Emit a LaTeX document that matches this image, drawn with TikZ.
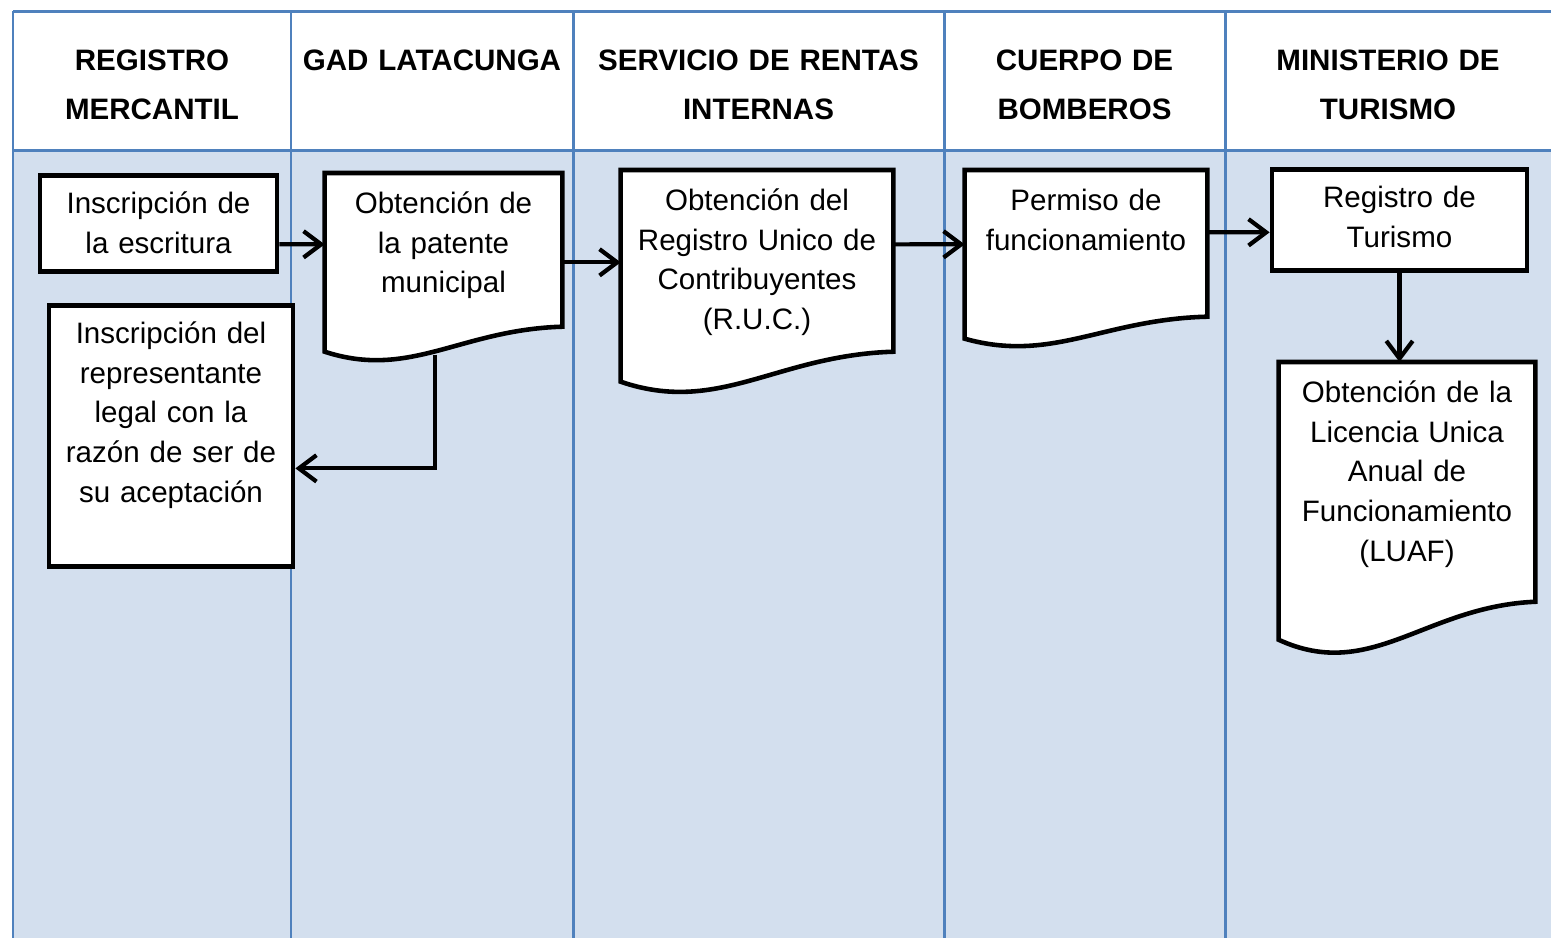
\documentclass[tikz,border=0pt]{standalone}
\usepackage{fontspec}
\setmainfont{Liberation Sans}
\usetikzlibrary{arrows.meta, calc}

\definecolor{laneLine}{HTML}{4F81BD}
\definecolor{laneFill}{HTML}{D3DFEE}

\newcommand{\pageWidth}{1551}
\newcommand{\pageHeight}{938}
\newcommand{\laneTop}{11}
\newcommand{\headBottom}{150}
\newcommand{\headBase}{70}

\pgfdeclarelayer{lanes}
\pgfdeclarelayer{paper}
\pgfsetlayers{lanes,paper,main}

\tikzset{
  laneline/.style={draw=laneLine, line width=0.85pt},
  header/.style={anchor=base, align=center, text width=3.3cm, inner sep=0pt,
    font=\fontsize{8.4}{14}\selectfont\bfseries},
  task/.style={anchor=north, draw=black, fill=white, line width=1.3pt, align=center,
    inner xsep=0.1cm, inner ysep=0.1cm, text height=0.28cm,
    font=\fontsize{8.4}{11.3}\selectfont},
  doc/.style={task, draw=none, fill=none},
  flow/.style={draw=black, line width=1.2pt, -{Straight Barb[length=5pt, width=7.5pt]}},
}

% wavy bottom of a document node: name, rise of the right end
\newcommand{\docOutline}[2]{%
  \draw[line width=1.3pt, fill=white] (#1.south west) -- (#1.north west) -- (#1.north east)
    -- ($(#1.south east)+(0,-#2)$)
    .. controls ($(#1.south west)!0.57!(#1.south east)+(0,-0.88*#2)$)
       and ($(#1.south west)!0.36!(#1.south east)+(0,1.12*#2)$) .. (#1.south west) -- cycle;}

\begin{document}
\begin{tikzpicture}[x=0.01cm, y=-0.01cm]
  \useasboundingbox (0,0) rectangle (\pageWidth,\pageHeight);

  \begin{pgfonlayer}{lanes}
    \fill[white] (13,\laneTop) rectangle (\pageWidth,\headBottom);
    \fill[laneFill] (13,\headBottom) rectangle (\pageWidth,\pageHeight);
    \draw[laneline] (13,\laneTop) -- (\pageWidth,\laneTop);
    \draw[laneline] (13,\headBottom) -- (\pageWidth,\headBottom);
    \draw[laneline] (13,\laneTop) -- (13,\pageHeight);
    \draw[laneline] (291,\laneTop) -- (291,\pageHeight);
    \draw[laneline] (573,\laneTop) -- (573,\pageHeight);
    \draw[laneline] (944,\laneTop) -- (944,\pageHeight);
    \draw[laneline] (1225,\laneTop) -- (1225,\pageHeight);
  \end{pgfonlayer}

  % lane headers
  \node[header] (hMerc) at (152,\headBase) {REGISTRO\\MERCANTIL};
  \node[header] (hGad) at (432,\headBase) {GAD LATACUNGA};
  \node[header] (hSri) at (758.5,\headBase) {SERVICIO DE RENTAS\\INTERNAS};
  \node[header] (hBomb) at (1084.5,\headBase) {CUERPO DE\\BOMBEROS};
  \node[header] (hTur) at (1388,\headBase) {MINISTERIO DE\\TURISMO};

  % steps
  \node[task, text width=2.17cm, text depth=0.48cm] (ins) at (158.5,173) {Inscripción de\\la escritura};
  \node[doc, text width=2.13cm, text depth=1.26cm] (pat) at (443.5,173) {Obtención de\\la patente\\municipal};
  \node[task, text width=2.24cm, text depth=2.13cm] (rep) at (171,303) {Inscripción del\\representante\\legal con la\\razón de ser de\\su aceptación};
  \node[doc, text width=2.48cm, text depth=1.59cm] (ruc) at (757,170) {Obtención del\\Registro Unico de\\Contribuyentes\\(R.U.C.)};
  \node[doc, text width=2.18cm, text depth=1.16cm] (perm) at (1086,170) {Permiso de\\funcionamiento};
  \node[task, text width=2.35cm, text depth=0.53cm] (tur) at (1399.5,167) {Registro de\\Turismo};
  \node[doc, text width=2.32cm, text depth=2.25cm] (luaf) at (1407,362) {Obtención de la\\Licencia Unica\\Anual de\\Funcionamiento\\(LUAF)};

  \begin{pgfonlayer}{paper}
    \docOutline{pat}{25}
    \docOutline{ruc}{30}
    \docOutline{perm}{22}
    \docOutline{luaf}{38}
  \end{pgfonlayer}

  % flow
  \draw[flow] ($(ins.east)+(0,21)$) -- ($(pat.west)+(0,-18)$);
  \draw[flow] (pat.east) -- (pat.east -| ruc.west);
  \draw[flow] ($(ruc.east)+(0,-31.5)$) -- ($(perm.west)+(0,-10)$);
  \draw[flow] ($(perm.east)+(0,-22)$) -- ($(tur.west)+(0,12.5)$);
  \draw[flow] (tur.south) -- (tur.south |- luaf.north);
  \draw[flow] ($(pat.south)+(-8.5,3)$) |- ($(rep.east)+(0,32.5)$);
\end{tikzpicture}
\end{document}
